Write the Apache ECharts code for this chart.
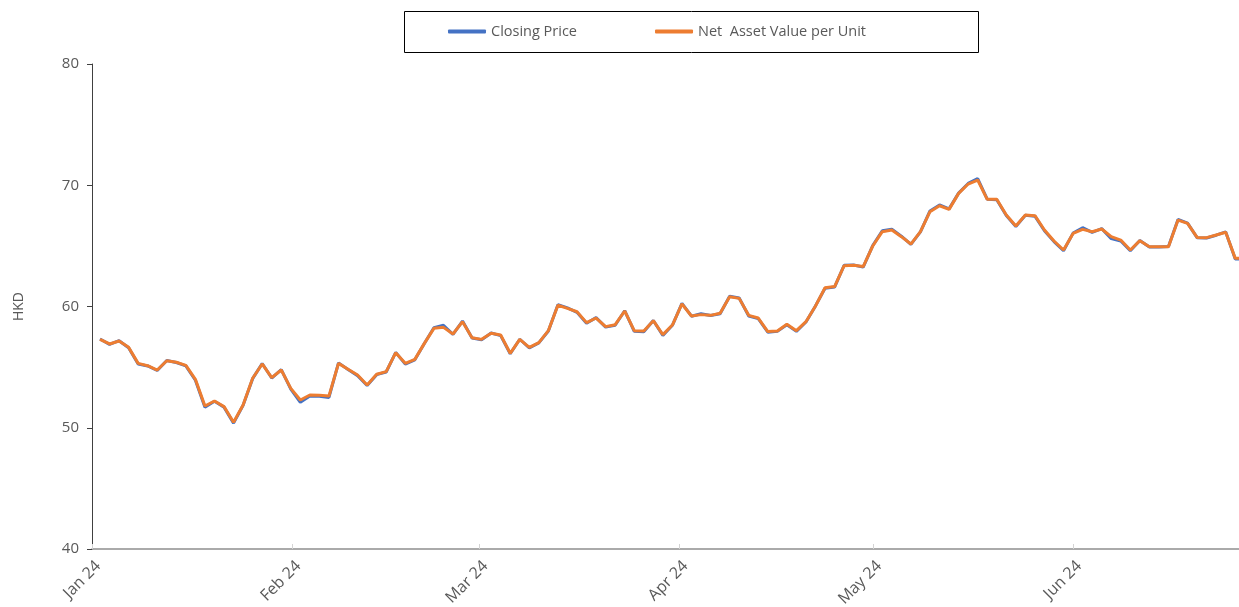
<!DOCTYPE html>
<html>
<head>
<meta charset="utf-8">
<script src="https://cdn.jsdelivr.net/npm/echarts@6/dist/echarts.min.js"></script>
<style>
html,body{margin:0;padding:0;background:#fff;}
#chart{width:1239px;height:607px;}
</style>
</head>
<body>
<div id="chart"></div>
<script>
// Trading days (HK), Jan–Jun 2024
var tradingDays = [
'2024-01-02','2024-01-03','2024-01-04','2024-01-05','2024-01-08','2024-01-09','2024-01-10','2024-01-11','2024-01-12',
'2024-01-15','2024-01-16','2024-01-17','2024-01-18','2024-01-19','2024-01-22','2024-01-23','2024-01-24','2024-01-25',
'2024-01-26','2024-01-29','2024-01-30','2024-01-31',
'2024-02-01','2024-02-02','2024-02-05','2024-02-06','2024-02-07','2024-02-08','2024-02-09','2024-02-14','2024-02-15',
'2024-02-16','2024-02-19','2024-02-20','2024-02-21','2024-02-22','2024-02-23','2024-02-26','2024-02-27','2024-02-28','2024-02-29',
'2024-03-01','2024-03-04','2024-03-05','2024-03-06','2024-03-07','2024-03-08','2024-03-11','2024-03-12','2024-03-13',
'2024-03-14','2024-03-15','2024-03-18','2024-03-19','2024-03-20','2024-03-21','2024-03-22','2024-03-25','2024-03-26',
'2024-03-27','2024-03-28',
'2024-04-02','2024-04-03','2024-04-05','2024-04-08','2024-04-09','2024-04-10','2024-04-11','2024-04-12','2024-04-15',
'2024-04-16','2024-04-17','2024-04-18','2024-04-19','2024-04-22','2024-04-23','2024-04-24','2024-04-25','2024-04-26',
'2024-04-29','2024-04-30',
'2024-05-02','2024-05-03','2024-05-06','2024-05-07','2024-05-08','2024-05-09','2024-05-10','2024-05-13','2024-05-14',
'2024-05-16','2024-05-17','2024-05-20','2024-05-21','2024-05-22','2024-05-23','2024-05-24','2024-05-27','2024-05-28',
'2024-05-29','2024-05-30','2024-05-31',
'2024-06-03','2024-06-04','2024-06-05','2024-06-06','2024-06-07','2024-06-11','2024-06-12','2024-06-13','2024-06-14',
'2024-06-17','2024-06-18','2024-06-19','2024-06-20','2024-06-21','2024-06-24','2024-06-25','2024-06-26','2024-06-27','2024-06-28'
];

var closingPrice = [
57.32,56.88,57.18,56.60,55.25,55.10,54.72,55.55,55.38,55.10,
53.92,51.70,52.18,51.70,50.38,51.85,54.05,55.30,54.10,54.80,
53.18,52.10,52.62,52.60,52.50,55.35,54.80,54.30,53.48,54.38,
54.60,56.22,55.25,55.60,56.95,58.25,58.45,57.70,58.80,57.40,
57.25,57.82,57.60,56.10,57.30,56.58,57.00,57.98,60.15,59.88,
59.52,58.62,59.08,58.30,58.45,59.65,57.95,57.92,58.85,57.62,
58.45,60.25,59.20,59.40,59.25,59.40,60.85,60.70,59.22,59.00,
57.88,57.95,58.50,57.95,58.72,60.05,61.50,61.60,63.40,63.42,
63.25,65.02,66.25,66.38,65.80,65.12,66.15,67.88,68.38,68.05,
69.35,70.15,70.55,68.85,68.80,67.50,66.60,67.52,67.45,66.25,
65.35,64.60,66.05,66.50,66.12,66.42,65.60,65.40,64.60,65.45,
64.90,64.90,64.95,67.18,66.88,65.68,65.65,65.88,66.15,63.92,
63.92
];

var navPerUnit = [
57.29,56.91,57.15,56.63,55.31,55.12,54.76,55.53,55.40,55.15,
53.99,51.79,52.21,51.74,50.45,51.88,54.08,55.26,54.13,54.76,
53.25,52.29,52.70,52.68,52.62,55.31,54.82,54.35,53.53,54.41,
54.63,56.19,55.31,55.64,56.96,58.20,58.28,57.73,58.75,57.43,
57.29,57.79,57.65,56.14,57.29,56.63,57.02,58.01,60.10,59.85,
59.57,58.67,59.05,58.34,58.50,59.63,58.01,57.98,58.83,57.68,
58.47,60.21,59.22,59.33,59.27,59.44,60.81,60.67,59.27,59.05,
57.93,57.98,58.53,58.01,58.75,60.04,61.55,61.64,63.37,63.40,
63.29,64.99,66.17,66.31,65.76,65.15,66.17,67.82,68.31,68.01,
69.33,70.10,70.43,68.84,68.84,67.55,66.64,67.55,67.49,66.31,
65.40,64.66,66.03,66.36,66.17,66.39,65.76,65.48,64.66,65.43,
64.93,64.93,64.93,67.13,66.86,65.70,65.68,65.90,66.12,63.97,
63.97
];

var monthTickDates = ['2024-01-01','2024-02-01','2024-03-01','2024-04-01','2024-05-01','2024-06-01'];
var monthTickLabels = ['Jan 24','Feb 24','Mar 24','Apr 24','May 24','Jun 24'];
var axisStartDate = '2024-01-01';
var axisEndDate = '2024-06-30';
var yTicks = [40, 50, 60, 70, 80];

function toTs(s){ var p = s.split('-'); return Date.UTC(+p[0], +p[1]-1, +p[2]); }
function dayNum(s){ return Math.round((toTs(s) - toTs(axisStartDate)) / 86400000); }
var monthTickDays = monthTickDates.map(dayNum);

var FONT = 'Open Sans';
var TXT = '#595959';

var chart = echarts.init(document.getElementById('chart'), null, {renderer:'canvas'});
chart.setOption({
  animation: false,
  backgroundColor: '#ffffff',
  textStyle: {fontFamily: FONT},
  graphic: [{
    type: 'rect', silent: true, z: 0,
    shape: {x: 404.5, y: 11.5, width: 574, height: 41},
    style: {fill: 'none', stroke: '#000000', lineWidth: 1}
  }],
  legend: {
    left: 448, top: 24, padding: 0,
    itemWidth: 38, itemHeight: 4, itemGap: 78,
    icon: 'roundRect',
    textStyle: {fontSize: 14.5, color: TXT, fontFamily: FONT},
    data: ['Closing Price', 'Net  Asset Value per Unit']
  },
  grid: [
    {left: 100, top: 64, width: 1144.8, height: 485, containLabel: false, outerBoundsMode: 'none'},
    {left: 92, top: 64, width: 1168, height: 485, containLabel: false, outerBoundsMode: 'none'}
  ],
  xAxis: [
    {type: 'category', gridIndex: 0, data: tradingDays, boundaryGap: false, show: false},
    {type: 'value', gridIndex: 1,
     min: 0, max: dayNum(axisEndDate),
     axisLine: {show: true, lineStyle: {color: '#8f8f8f', width: 1.5}},
     axisTick: {show: true, inside: true, length: 5, customValues: monthTickDays, lineStyle: {color: '#d4d4d4', width: 1}},
     splitLine: {show: false},
     axisLabel: {
       customValues: monthTickDays, rotate: 45, margin: 21,
       fontSize: 16, color: TXT, fontFamily: FONT, padding: [0, -9, 0, 0],
       formatter: function(v){ var i = monthTickDays.indexOf(Math.round(v)); return i >= 0 ? monthTickLabels[i] : ''; }
     }
    }
  ],
  yAxis: [
    {type: 'value', gridIndex: 0, min: yTicks[0], max: yTicks[yTicks.length-1], interval: 10, offset: 8,
     name: 'HKD', nameLocation: 'middle', nameGap: 66,
     nameTextStyle: {fontSize: 14, color: TXT, fontFamily: FONT},
     axisLine: {show: true, lineStyle: {color: '#404040', width: 1}},
     axisTick: {show: true, length: 5, lineStyle: {color: '#404040'}},
     splitLine: {show: false},
     axisLabel: {margin: 13, fontSize: 15, color: TXT, fontFamily: FONT}
    },
    {type: 'value', gridIndex: 1, min: 40, max: 80, show: false, splitLine: {show: false}}
  ],
  series: [
    {name: 'Closing Price', type: 'line', xAxisIndex: 0, yAxisIndex: 0, data: closingPrice,
     symbol: 'none', smooth: false, color: '#4472C4', lineStyle: {width: 3, color: '#4472C4'}, z: 2},
    {name: 'Net  Asset Value per Unit', type: 'line', xAxisIndex: 0, yAxisIndex: 0, data: navPerUnit,
     symbol: 'none', smooth: false, color: '#ED7D31', lineStyle: {width: 3, color: '#ED7D31'}, z: 3}
  ]
});
</script>
</body>
</html>
